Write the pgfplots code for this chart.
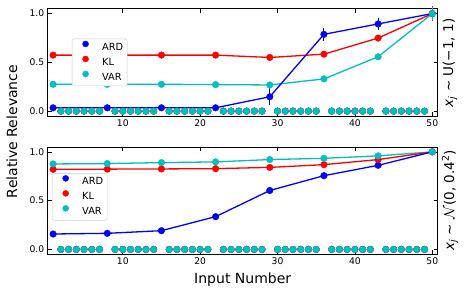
\documentclass[border=0pt]{standalone}
\usepackage{fontspec}
\setmainfont{DejaVu Sans}
\usepackage{pgfplots}
\usepackage{pgfplotstable}
\pgfplotsset{compat=1.18}
\definecolor{mc}{rgb}{0,0.75,0.75}

\pgfplotstableread{
x y
2 0
3 0
4 0
5 0
6 0
7 0
9 0
10 0
11 0
12 0
13 0
14 0
16 0
17 0
18 0
19 0
20 0
21 0
23 0
24 0
25 0
26 0
27 0
28 0
30 0
31 0
32 0
33 0
34 0
35 0
37 0
38 0
39 0
40 0
41 0
42 0
44 0
45 0
46 0
47 0
48 0
49 0
}\zeros

% top panel: uniform inputs
\pgfplotstableread{
x y e
1 0.034 0
8 0.034 0
15 0.034 0
22 0.034 0
29 0.147 0.06
36 0.787 0.04
43 0.894 0.036
50 1.000 0.03
}\topARD
\pgfplotstableread{
x y e
1 0.574 0
8 0.574 0
15 0.574 0
22 0.574 0
29 0.550 0
36 0.584 0
43 0.749 0
50 1.000 0.05
}\topKL
\pgfplotstableread{
x y e
1 0.275 0
8 0.275 0
15 0.275 0
22 0.272 0
29 0.268 0
36 0.330 0
43 0.557 0
50 1.000 0.04
}\topVAR

% bottom panel: normal inputs
\pgfplotstableread{
x y
1 0.158
8 0.165
15 0.192
22 0.336
29 0.604
36 0.756
43 0.862
50 1.000
}\botARD
\pgfplotstableread{
x y
1 0.821
8 0.823
15 0.825
22 0.828
29 0.841
36 0.869
43 0.921
50 1.000
}\botKL
\pgfplotstableread{
x y
1 0.876
8 0.880
15 0.890
22 0.897
29 0.921
36 0.934
43 0.959
50 1.000
}\botVAR

\pgfplotsset{
  myax/.style={
    scale only axis,
    width=390pt, height=107.3pt,
    xmin=0.3, xmax=50.7, ymin=-0.05, ymax=1.05,
    xtick={10,20,30,40,50},
    ytick={0,0.5,1},
    tick align=inside,
    xtick pos=both, ytick pos=both,
    major tick length=4pt,
    tick style={black, line width=0.6pt},
    axis line style={black, line width=0.8pt},
    ticklabel style={font=\fontsize{9.2}{11}\selectfont},
    /pgf/number format/assume math mode=true,
    yticklabel style={/pgf/number format/.cd, fixed, fixed zerofill, precision=1},
    clip=false,
    legend style={
      draw=black!20, rounded corners=2pt,
      font=\fontsize{9.8}{11}\selectfont,
      inner xsep=4pt, inner ysep=1pt,
      row sep=0pt, column sep=7pt,
      nodes={inner xsep=0pt, inner ysep=3pt, text height=7.2pt, text depth=1.8pt},
      cells={anchor=west},
    },
    legend image code/.code={%
      \path[draw=none, fill=none] (0pt,-2pt) rectangle (19pt,2pt);
      \draw[#1] plot coordinates {(9.5pt,3.5pt)};},
  },
  lin/.style={line width=1.3pt, no marks},
  mk/.style={only marks, mark=*, mark size=3.3pt},
}

\begin{document}
\begin{tikzpicture}[x=1pt,y=1pt]
\path[use as bounding box] (0,0) rectangle (467,296);

% ---------- top panel ----------
\begin{axis}[myax, at={(47.7pt,180pt)}, anchor=south west,
  legend style={at={(0.062,0.72)}, anchor=north west}]
  \addlegendimage{only marks, mark=*, mark size=3pt, blue}
  \addlegendimage{only marks, mark=*, mark size=3pt, red}
  \addlegendimage{only marks, mark=*, mark size=3pt, mc}
  \addplot[lin, mc, forget plot] table[x=x,y=y] {\topVAR};
  \addplot[lin, red, forget plot] table[x=x,y=y] {\topKL};
  \addplot[lin, blue, forget plot] table[x=x,y=y] {\topARD};
  \addplot[mk, blue, forget plot, error bars/.cd, y dir=both, y explicit,
    error bar style={line width=1pt}, error mark options={mark size=2.5pt, line width=1pt}]
    table[x=x,y=y,y error=e] {\topARD};
  \addplot[mk, blue, forget plot] table[x=x,y=y] {\zeros};
  \addplot[mk, red, forget plot, error bars/.cd, y dir=both, y explicit,
    error bar style={line width=1pt}, error mark options={mark size=2.5pt, line width=1pt}]
    table[x=x,y=y,y error=e] {\topKL};
  \addplot[mk, red, forget plot] table[x=x,y=y] {\zeros};
  \addplot[mk, mc, forget plot, error bars/.cd, y dir=both, y explicit,
    error bar style={line width=1pt}, error mark options={mark size=2.5pt, line width=1pt}]
    table[x=x,y=y,y error=e] {\topVAR};
  \addplot[mk, mc, forget plot] table[x=x,y=y] {\zeros};
  \legend{ARD,KL,VAR}
\end{axis}

% ---------- bottom panel ----------
\begin{axis}[myax, at={(47.7pt,41.7pt)}, anchor=south west,
  legend style={at={(0.011,0.756)}, anchor=north west}]
  \addlegendimage{only marks, mark=*, mark size=3pt, blue}
  \addlegendimage{only marks, mark=*, mark size=3pt, red}
  \addlegendimage{only marks, mark=*, mark size=3pt, mc}
  \addplot[lin, mc, forget plot] table[x=x,y=y] {\botVAR};
  \addplot[lin, red, forget plot] table[x=x,y=y] {\botKL};
  \addplot[lin, blue, forget plot] table[x=x,y=y] {\botARD};
  \addplot[mk, blue, forget plot] table[x=x,y=y] {\botARD};
  \addplot[mk, blue, forget plot] table[x=x,y=y] {\zeros};
  \addplot[mk, red, forget plot] table[x=x,y=y] {\botKL};
  \addplot[mk, red, forget plot] table[x=x,y=y] {\zeros};
  \addplot[mk, mc, forget plot] table[x=x,y=y] {\botVAR};
  \addplot[mk, mc, forget plot] table[x=x,y=y] {\zeros};
  \legend{ARD,KL,VAR}
\end{axis}

% ---------- labels ----------
\node[rotate=90, font=\fontsize{14}{16}\selectfont] at (12,164.5) {Relative Relevance};
\node[font=\fontsize{14}{16}\selectfont] at (242.7,16) {Input Number};
\node[rotate=90, font=\fontsize{13.5}{16}\selectfont] at (450,233)
  {\textit{x}\textsubscript{\textit{j}} ∼ U(−1, 1)};
\node[rotate=90, font=\fontsize{13.5}{16}\selectfont] at (450,95.5)
  {\textit{x}\textsubscript{\textit{j}} ∼ $\mathcal{N}$(0, 0.4\textsuperscript{2})};
\end{tikzpicture}
\end{document}
